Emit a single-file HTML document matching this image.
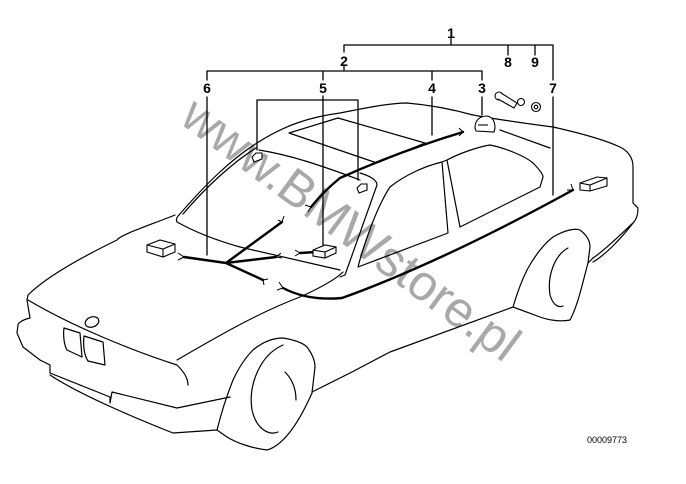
<!DOCTYPE html>
<html><head><meta charset="utf-8"><style>
html,body{margin:0;padding:0;background:#fff;}
svg{display:block;}
text{font-family:"Liberation Sans",sans-serif;}
</style></head><body>
<svg width="686" height="484" viewBox="0 0 686 484" xmlns="http://www.w3.org/2000/svg">
<text x="0" y="0" font-size="50" fill="#a8a8a8" transform="translate(178,122) rotate(36.5)">www.BMWstore.pl</text>
<g fill="none" stroke="#000" stroke-width="1.2" stroke-linejoin="round" stroke-linecap="round">
<path d="M179,215 C205,185 230,160 257,143 C285,125 310,117 340,113 C365,108 390,103 407,103 C430,105 455,110 473,115 C500,120 530,124 553,127 C580,133 605,140 620,147 C630,152 633,160 633,167 L633,203 L638,208 C638,215 636,220 633,223 C620,235 605,250 593,258"/>
<path d="M183,214 C205,188 232,163 256,148"/>
<path d="M179,215 C176,218 176,220 177,222 C195,232 215,240 240,247 L340,270"/>
<path d="M175,215 C150,225 120,235 117,240 C80,258 45,278 28,295 L27,300 L30,318 C22,320 18,323 18,325 L17,333 L23,347 L40,360 L50,365 L50,373 L110,397 L110,403 L112,392 L177,408 L230,397"/>
<path d="M50,375 C80,395 140,420 173,433 L217,430"/>
<path d="M28,300 C70,325 130,350 177,365 C184,372 188,378 188,385"/>
<path d="M177,360 C220,335 260,312 300,297 C320,288 335,280 343,272"/>
<path d="M259,150 C290,155 320,165 360,180"/>
<path d="M500,130 L550,148"/>
<path d="M289,133 L338,118 L425,143 L377,163 Z"/>
<path d="M360,173 C370,176 377,180 377,185 L345,275 L340,277"/>
<path d="M217,430 C222,410 227,395 233,380 C240,365 248,355 253,350 C265,340 275,338 283,338 C295,340 303,343 307,347 C313,355 315,362 315,367 L312,393 C300,420 285,445 267,450 C250,448 235,442 227,437 L217,430"/>
<path d="M283,345 C260,355 248,385 252,410 C256,428 268,436 278,432"/>
<path d="M285,372 C293,380 296,390 296,400"/>
<path d="M312,392 L350,373"/>
<path d="M350,373 L390,352 L513,307"/>
<path d="M513,307 C518,290 522,280 527,270 C535,255 545,243 553,237 C565,230 575,228 580,230 C588,236 590,242 590,247 L588,263 C582,285 578,305 570,320 C560,322 548,320 540,317 L513,307"/>
<path d="M568,248 C555,255 547,275 550,295 C553,305 558,308 563,306"/>
<path d="M588,263 L593,258"/>
<path d="M633,223 C620,240 605,255 593,262"/>
<path d="M358,267 C365,240 378,205 390,187 C405,175 425,166 442,162 L448,233 Z"/>
<path d="M447,160 C460,153 478,147 490,145 C505,148 525,156 533,163 C540,170 543,174 543,177 L540,187 L460,227 Z"/>
<path d="M442,162 L447,160"/>
<ellipse cx="92" cy="322" rx="7" ry="5" transform="rotate(-20 92 322)"/>
<path d="M64,328 L80,333 L82,357 L67,350 C64,345 63,335 64,328 Z"/>
<path d="M84,336 L103,342 L105,365 L88,361 C84,355 83,345 84,336 Z"/>
<path d="M451,38 L451,45 M344,45 L553,45 M344,45 L344,52 M508,45 L508,55 M535,45 L535,55 M553,45 L553,80" stroke-width="1.3"/>
<path d="M344,66 L344,71 M207,71 L482,71 M207,71 L207,80 M323,71 L323,80 M432,71 L432,80 M482,71 L482,80" stroke-width="1.3"/>
<path d="M207,97 L207,255 M323,96 L323,245 M257,100 L358,100 M257,100 L257,150 M358,100 L358,180 M432,97 L432,135 M482,97 L482,115 M553,97 L553,195" stroke-width="1.3"/>
</g>
<g fill="none" stroke="#000" stroke-width="2.4" stroke-linecap="round">
<path d="M184,257 L226,263 L276,257 M226,263 L263,280 M226,263 L282,222 M311,207 C325,190 335,182 340,178 C380,160 420,145 463,132"/>
<path d="M283,288 C300,297 320,300 342,298 C420,270 500,230 573,190"/>
<path d="M316,252 L300,253"/>
</g>
<g fill="none" stroke="#000" stroke-width="1">
<path d="M184,257 l-6,-4 M184,257 l-6,3 M276,257 l5,-4 M276,257 l6,1 M263,280 l5,-1 M263,280 l1,5 M282,222 l2,-6 M282,222 l-4,-2 M311,207 l-6,-2 M311,207 l-3,5 M463,132 l-4,-4 M463,132 l-4,4 M283,288 l-4,-6 M283,288 l-6,2 M573,190 l-2,-6 M573,190 l-6,0 M300,253 l-5,-3 M300,253 l-5,3"/>
</g>
<g fill="#fff" stroke="#000" stroke-width="1.1">
<path d="M147,245 L160,240 L175,244 L175,252 L163,257 L147,252 Z"/><path d="M147,245 L163,249 L175,244 M163,249 L163,257" fill="none"/>
<path d="M313,250 L325,245 L336,247 L336,253 L325,258 L313,256 Z"/><path d="M313,250 L325,252 L336,247 M325,252 L325,258" fill="none"/>
<path d="M580,183 L597,177 L607,178 L607,186 L590,191 L580,190 Z"/><path d="M580,183 L590,185 L607,178 M590,185 L590,191" fill="none"/>
<path d="M252,157 L256,153 L262,153 L262,159 L254,162 Z"/>
<path d="M357,188 L361,184 L367,184 L367,190 L359,193 Z"/>
<path d="M475,128 C475,120 480,116 487,116 C493,117 495,122 495,128 L494,132 L476,131 Z"/><path d="M478,125 L488,125" fill="none"/>
<circle cx="499" cy="96" r="4"/><path d="M501,93 L517,103 L514,108 L498,99" /><circle cx="521" cy="102" r="3.5"/>
<circle cx="536" cy="107" r="4.5"/><circle cx="536" cy="107" r="1.8"/>
</g>
<g font-weight="bold" font-size="14" fill="#000" text-anchor="middle">
<text x="451" y="38">1</text>
<text x="344" y="66">2</text>
<text x="207" y="93">6</text>
<text x="323" y="93">5</text>
<text x="432" y="93">4</text>
<text x="482" y="93">3</text>
<text x="508" y="67">8</text>
<text x="535" y="67">9</text>
<text x="553" y="93">7</text>
</g>
<text x="607" y="443" font-size="9" fill="#000" text-anchor="middle">00009773</text>
</svg>
</body></html>
